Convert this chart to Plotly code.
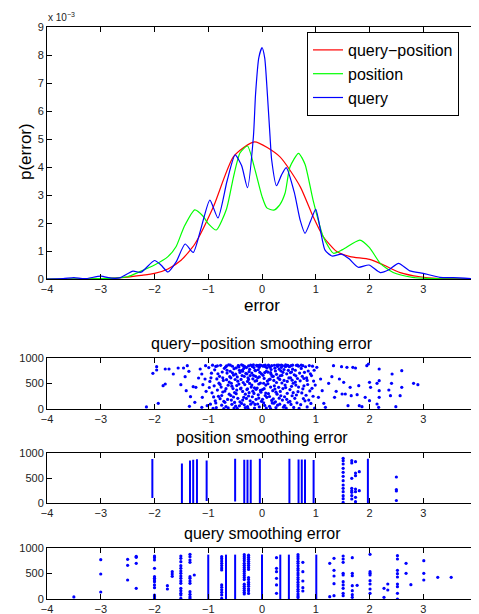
import plotly.graph_objects as go

# ---------------- density curves (p(error), units of 1e-3) ----------------
qp_curve_x = [-4, -3.5, -3, -2.75, -2.5, -2.25, -2, -1.75, -1.5, -1.25, -0.9, -0.53, -0.14, 0.33,
              0.71, 0.95, 1.14, 1.39, 1.64, 2.0, 2.26, 2.57, 2.94, 3.25, 3.5, 4]
qp_curve_y = [0, 0, 0.01, 0.03, 0.07, 0.13, 0.2, 0.36, 0.68, 1.25, 2.6, 4.37, 4.9, 4.37,
              3.3, 2.23, 1.51, 0.98, 0.8, 0.7, 0.5, 0.23, 0.08, 0.02, 0.01, 0]

pos_curve_x = [-4, -3, -2.75, -2.5, -2.25, -2.0, -1.75, -1.6, -1.45, -1.25, -1.1, -1.0, -0.85, -0.66,
               -0.53, -0.41, -0.27, -0.13, 0.0, 0.09, 0.22, 0.33, 0.43, 0.52, 0.68, 0.8, 0.95, 1.14,
               1.33, 1.5, 1.82, 2.0, 2.2, 2.44, 2.8, 3.2, 4]
pos_curve_y = [0, 0.01, 0.03, 0.08, 0.28, 0.5, 0.8, 1.15, 1.86, 2.47, 2.25, 1.98, 1.75, 2.5,
               3.65, 4.5, 4.75, 3.9, 2.95, 2.54, 2.46, 2.65, 3.07, 4.0, 4.49, 4.1, 2.82, 1.51,
               0.92, 1.05, 1.39, 1.12, 0.56, 0.23, 0.06, 0.01, 0]

q_curve_x = [-4, -3.7, -3.5, -3.3, -3.0, -2.8, -2.65, -2.4, -2.25, -2.0, -1.88, -1.75, -1.6, -1.43,
             -1.28, -1.15, -0.97, -0.82, -0.65, -0.5, -0.38, -0.27, -0.16, -0.12, -0.06, 0.0, 0.05,
             0.1, 0.15, 0.18, 0.27, 0.36, 0.45, 0.6, 0.71, 0.8, 0.9, 1.0, 1.17, 1.3, 1.48, 1.62, 1.79,
             1.99, 2.2, 2.36, 2.54, 2.75, 3.0, 3.31, 3.56, 4.0]
q_curve_y = [0, 0.01, 0.05, 0.01, 0.1, 0.03, 0.04, 0.28, 0.24, 0.66, 0.5, 0.25, 0.6, 1.25,
             0.95, 1.7, 2.82, 2.18, 3.5, 4.43, 4.05, 3.26, 5.08, 6.6, 7.9, 8.26, 7.9,
             6.6, 5.08, 4.25, 3.33, 3.7, 3.98, 3.1, 2.1, 1.63, 2.05, 2.49, 1.04, 0.82, 0.89, 0.72, 0.42,
             0.5, 0.23, 0.33, 0.56, 0.29, 0.2, 0.06, 0.05, 0]

# ---------------- query-position smoothing error scatter ----------------
qp_err = [
    # left tail
    -2.03, -1.96, -1.96, -1.93, -1.80, -1.84, -1.80, -1.73, -1.65, -1.56, -1.51, -1.46, -1.43, -1.39,
    -1.41, -1.36, -1.35, -1.33, -1.28, -1.25, -1.23, -1.15, -1.18, -1.12, -1.11, -1.12, -1.10, -1.05,
    -1.06, -1.04, -1.02, -2.15,
    # centre
    -0.99, -0.97, -0.96, -0.94, -0.93, -0.92, -0.91, -0.98, -0.95, -0.90,
    -0.89, -0.88, -0.87, -0.86, -0.85, -0.84, -0.83, -0.82, -0.81, -0.80, -0.86, -0.83,
    -0.79, -0.78, -0.77, -0.76, -0.75, -0.74, -0.73, -0.72, -0.71, -0.70, -0.78, -0.75, -0.73, -0.71,
    -0.69, -0.68, -0.67, -0.66, -0.65, -0.64, -0.63, -0.62, -0.61, -0.60, -0.69, -0.67, -0.65, -0.63, -0.61, -0.66,
    -0.59, -0.58, -0.57, -0.56, -0.55, -0.54, -0.53, -0.52, -0.51, -0.50, -0.59, -0.57, -0.56, -0.55, -0.53, -0.52, -0.51, -0.58,
    -0.49, -0.48, -0.47, -0.46, -0.45, -0.44, -0.43, -0.42, -0.41, -0.40, -0.49, -0.48, -0.46, -0.45, -0.44, -0.42, -0.41, -0.47, -0.43,
    -0.39, -0.38, -0.37, -0.36, -0.35, -0.34, -0.33, -0.32, -0.31, -0.30, -0.39, -0.38, -0.36, -0.35, -0.34, -0.33, -0.31, -0.37, -0.32, -0.36,
    -0.29, -0.28, -0.27, -0.26, -0.25, -0.24, -0.23, -0.22, -0.21, -0.20, -0.29, -0.28, -0.27, -0.26, -0.25, -0.24, -0.22, -0.21, -0.23, -0.27, -0.25,
    -0.19, -0.18, -0.17, -0.16, -0.15, -0.14, -0.13, -0.12, -0.11, -0.10, -0.19, -0.18, -0.17, -0.16, -0.14, -0.13, -0.12, -0.11, -0.15, -0.17, -0.13,
    -0.09, -0.08, -0.07, -0.06, -0.05, -0.04, -0.03, -0.02, -0.01, -0.10, -0.09, -0.08, -0.07, -0.06, -0.05, -0.04, -0.03, -0.02, -0.07, -0.05, -0.01,
    0.01, 0.02, 0.03, 0.04, 0.05, 0.06, 0.07, 0.08, 0.09, 0.10, 0.01, 0.02, 0.03, 0.04, 0.05, 0.06, 0.07, 0.08, 0.09, 0.03, 0.06,
    0.11, 0.12, 0.13, 0.14, 0.15, 0.16, 0.17, 0.18, 0.19, 0.20, 0.11, 0.12, 0.14, 0.15, 0.16, 0.17, 0.19, 0.13, 0.18, 0.16,
    0.21, 0.22, 0.23, 0.24, 0.25, 0.26, 0.27, 0.28, 0.29, 0.30, 0.21, 0.23, 0.24, 0.25, 0.27, 0.28, 0.22, 0.26, 0.29,
    0.31, 0.32, 0.33, 0.34, 0.35, 0.36, 0.37, 0.38, 0.39, 0.40, 0.31, 0.33, 0.34, 0.36, 0.37, 0.39, 0.32, 0.35, 0.38,
    0.41, 0.42, 0.43, 0.44, 0.45, 0.46, 0.47, 0.48, 0.49, 0.50, 0.41, 0.43, 0.44, 0.46, 0.47, 0.49, 0.42, 0.45,
    0.51, 0.52, 0.53, 0.54, 0.55, 0.56, 0.57, 0.58, 0.59, 0.60, 0.52, 0.54, 0.55, 0.57, 0.58, 0.53, 0.56,
    0.61, 0.62, 0.63, 0.64, 0.65, 0.66, 0.67, 0.68, 0.69, 0.70, 0.62, 0.64, 0.66, 0.68, 0.63,
    0.71, 0.72, 0.73, 0.74, 0.75, 0.76, 0.77, 0.78, 0.79, 0.80, 0.73, 0.76, 0.78,
    0.81, 0.82, 0.83, 0.84, 0.85, 0.86, 0.87, 0.88, 0.89, 0.90, 0.84,
    0.91, 0.92, 0.93, 0.94, 0.95, 0.96, 0.97, 0.98, 0.99,
    # right tail
    1.02, 1.05, 1.09, 1.12, 1.15, 1.18, 1.24, 1.30, 1.33, 1.35, 1.38, 1.44, 1.48, 1.49, 1.52, 1.55,
    1.58, 1.60, 1.64, 1.66, 1.69, 1.74, 1.77, 1.80, 1.81, 1.86, 1.92, 1.95, 1.98, 2.00, 2.02, 2.00,
    2.14, 2.18, 2.18, 2.18, 2.18, 2.17, 2.14, 2.36, 2.39, 2.42, 2.41, 2.49, 2.57, 2.60, 2.60, 2.82, 2.90,
]
qp_idx = [
    699, 830, 765, 111, 784, 457, 490, 784, 686, 804, 477, 804, 634, 850,
    359, 739, 52, 242, 438, 131, 425, 784, 608, 686, 229, 33, 477, 850,
    588, 346, 65, 40,
    812, 540, 95, 703, 318, 860, 14, 422, 611, 237,
    455, 768, 160, 834, 27, 590, 372, 691, 248, 506, 118, 846,
    640, 203, 857, 430, 75, 725, 333, 560, 10, 798, 482, 265, 612, 150,
    352, 820, 48, 575, 705, 187, 468, 866, 290, 633, 130, 398, 760, 21, 527, 845,
    740, 265, 505, 92, 838, 401, 665, 20, 322, 578, 862, 175, 447, 710, 235, 790, 128, 612,
    55, 805, 372, 628, 210, 852, 488, 760, 140, 395, 682, 300, 14, 546, 845, 63, 718, 460, 825,
    580, 110, 760, 345, 852, 228, 640, 478, 28, 700, 410, 866, 175, 520, 795, 82, 290, 655, 832, 742,
    812, 380, 45, 612, 255, 734, 502, 160, 862, 430, 208, 690, 540, 8, 845, 320, 655, 95, 778, 395, 580,
    470, 835, 130, 660, 305, 20, 548, 752, 385, 858, 705, 240, 592, 868, 415, 90, 640, 190, 812, 350, 760,
    845, 612, 278, 490, 40, 720, 365, 855, 150, 555, 412, 98, 770, 215, 628, 862, 508, 330, 850, 818, 690,
    380, 840, 122, 600, 715, 265, 470, 20, 805, 548, 190, 660, 852, 398, 70, 832, 312, 740, 228, 505, 860,
    722, 300, 845, 52, 585, 430, 775, 168, 640, 360, 495, 860, 245, 818, 10, 680, 120, 575, 850, 712,
    640, 115, 858, 392, 745, 28, 520, 290, 835, 610, 200, 455, 800, 140, 680, 862, 560, 330, 75,
    425, 780, 95, 652, 260, 862, 510, 175, 720, 35, 860, 580, 345, 818, 660, 400, 212, 748, 850,
    560, 240, 835, 420, 18, 690, 308, 855, 132, 610, 775, 470, 866, 190, 540, 758, 68, 840,
    830, 380, 612, 90, 725, 260, 862, 505, 30, 672, 148, 850, 445, 780, 320, 715, 565,
    210, 760, 470, 856, 122, 598, 340, 840, 15, 705, 528, 275, 862, 430, 650,
    552, 84, 795, 315, 640, 850, 205, 455, 720, 160, 860, 395, 598,
    828, 270, 610, 40, 480, 745, 175, 852, 355, 690, 560,
    110, 655, 405, 840, 250, 548, 760, 18, 470,
    817, 229, 588, 359, 111, 33, 503, 634, 850, 229, 346, 588, 830, 294, 523, 294,
    817, 65, 425, 261, 817, 804, 281, 457, 65, 46, 229, 850, 882, 523, 425, 163,
    503, 784, 556, 359, 229, 33, 98, 373, 261, 686, 503, 46, 261, 752, 425, 503, 477,
]

# ---------------- position smoothing error ----------------
pos_col_err = [-2.04, -1.49, -1.34, -1.28, -1.21, -1.03, -0.50, -0.33, -0.27, -0.21, -0.04,
               0.51, 0.68, 0.74, 0.80, 0.96, 1.97]
pos_col_lo = [100, 0, 0, 0, 0, 40, 30, 0, 0, 0, 0, 0, 0, 0, 0, 0, 0]
pos_col_hi = [880, 790, 850, 865, 875, 850, 885, 865, 865, 865, 885, 885, 870, 870, 870, 860, 885]
pos_pt_err = [1.51] * 13 + [1.67] * 8 + [1.74] * 7 + [1.81] * 2 + [2.5] * 4
pos_pt_idx = [893, 847, 780, 693, 613, 533, 447, 360, 293, 227, 147, 87, 13,
              847, 800, 493, 293, 247, 213, 147, 80,
              827, 600, 547, 280, 227, 113, 27,
              627, 247,
              520, 270, 240, 50]

# ---------------- query smoothing error ----------------
q_col_err = [-1.00, -0.67, -0.50, 0.00, 0.34, 0.50, 1.01]
q_col_lo = [0, 0, 0, 0, 0, 0, 0]
q_col_hi = [870, 870, 870, 875, 870, 870, 870]
q_pt_err = ([-3.5] + [-3.0] * 3 + [-2.5] * 3 + [-2.34] * 4 + [-2.0] * 13 + [-1.76] * 2 + [-1.67] * 3
            + [-1.51] * 16 + [-1.34] * 12 + [-1.26] + [-0.75] * 13 + [-0.33] * 19 + [-0.25] * 16
            + [0.27] * 6 + [0.67] * 20 + [0.76] * 5 + [1.26] * 2 + [1.34] * 5 + [1.51] * 10
            + [1.68] * 7 + [1.77] + [2.01] * 8 + [2.27] * 2 + [2.34] * 2 + [2.52] * 9 + [2.68] * 2
            + [2.77] + [3.01] * 3 + [3.27] + [3.52])
q_pt_idx = [40,
            771, 490, 137,
            778, 660, 373,
            837, 817, 699, 209,
            843, 810, 765, 601, 438, 405, 373, 340, 275, 222, 78, 46, 13,
            261, 196,
            536, 490, 444,
            843, 797, 732, 654, 601, 549, 503, 451, 405, 353, 307, 209, 163, 111, 78, 13,
            876, 830, 765, 719, 438, 405, 353, 307, 144, 92, 46, 13,
            471,
            830, 790, 745, 700, 655, 610, 569, 275, 230, 180, 130, 80, 13,
            870, 830, 790, 750, 700, 660, 620, 580, 540, 500, 460, 420, 380, 290, 250, 210, 170, 130, 100,
            860, 820, 780, 740, 700, 660, 620, 580, 420, 380, 330, 290, 250, 200, 160, 110,
            810, 601, 536, 405, 275, 111,
            870, 830, 790, 740, 700, 650, 600, 560, 510, 470, 420, 380, 330, 280, 240, 190, 150, 100, 60, 30,
            719, 536, 353, 222, 157,
            699, 46,
            797, 562, 451, 301, 65,
            843, 784, 719, 503, 471, 340, 275, 209, 111, 65,
            810, 503, 458, 261, 163, 85, 33,
            268,
            876, 536, 503, 471, 359, 294, 196, 111,
            209, 33,
            294, 176,
            850, 784, 562, 497, 431, 294, 242, 111, 0,
            699, 503,
            281,
            752, 503, 373,
            425,
            425]

x_ticks = [-4, -3, -2, -1, 0, 1, 2, 3, 4]
x_tick_text = ["\u22124", "\u22123", "\u22122", "\u22121", "0", "1", "2", "3", "4"]
top_y_ticks = [0, 1, 2, 3, 4, 5, 6, 7, 8, 9]
small_y_ticks = [0, 500, 1000]

FONT = "Liberation Sans, Arial, Helvetica, sans-serif"
BLUE = "#0000ff"

# page has an 8px body margin: the figure occupies page pixels 8..479 x 8..614
OFF = 8
W, H = 479 - OFF, 614 - OFF


def px(xpage):
    return (xpage - OFF) / W


def py(ypage):
    return (H - (ypage - OFF)) / H


fig = go.Figure()

scale = 1e-3
for cx_, cy_, col, nm in [(qp_curve_x, qp_curve_y, "#ff0000", "query\u2212position"),
                          (pos_curve_x, pos_curve_y, "#00ff00", "position"),
                          (q_curve_x, q_curve_y, BLUE, "query")]:
    fig.add_trace(go.Scatter(x=cx_, y=[v * scale for v in cy_], mode="lines",
                             line=dict(color=col, width=1.2, shape="spline", smoothing=0.6),
                             name=nm, xaxis="x", yaxis="y"))

fig.add_trace(go.Scatter(x=qp_err, y=qp_idx, mode="markers",
                         marker=dict(color=BLUE, size=3.2, line=dict(width=0)),
                         showlegend=False, xaxis="x2", yaxis="y2"))


def columns(xs, lo, hi):
    cx, cy = [], []
    for x, a, b in zip(xs, lo, hi):
        cx += [x, x, None]
        cy += [a, b, None]
    return cx, cy


cx, cy = columns(pos_col_err, pos_col_lo, pos_col_hi)
fig.add_trace(go.Scatter(x=cx, y=cy, mode="lines", line=dict(color=BLUE, width=2),
                         showlegend=False, xaxis="x3", yaxis="y3"))
fig.add_trace(go.Scatter(x=pos_pt_err, y=pos_pt_idx, mode="markers",
                         marker=dict(color=BLUE, size=3.2, line=dict(width=0)),
                         showlegend=False, xaxis="x3", yaxis="y3"))

cx, cy = columns(q_col_err, q_col_lo, q_col_hi)
fig.add_trace(go.Scatter(x=cx, y=cy, mode="lines", line=dict(color=BLUE, width=2),
                         showlegend=False, xaxis="x4", yaxis="y4"))
fig.add_trace(go.Scatter(x=q_pt_err, y=q_pt_idx, mode="markers",
                         marker=dict(color=BLUE, size=3.2, line=dict(width=0)),
                         showlegend=False, xaxis="x4", yaxis="y4"))

x_dom = [px(47), px(477)]


def axis_common():
    return dict(showline=True, linecolor="black", linewidth=1, mirror="ticks",
                ticks="inside", ticklen=5, tickcolor="black", tickwidth=1,
                showgrid=False, zeroline=False, automargin=False,
                ticklabeloverflow="allow",
                tickfont=dict(family=FONT, size=11, color="#222222"))


for i, (yname, (top_px, bot_px), anchor) in enumerate([
        ("yaxis", (27, 279), "x"), ("yaxis2", (358, 409), "x2"),
        ("yaxis3", (453, 503), "x3"), ("yaxis4", (548, 599), "x4")]):
    xname = "xaxis" if i == 0 else "xaxis%d" % (i + 1)
    ycode = "y" if i == 0 else "y%d" % (i + 1)
    xa = axis_common()
    xa.update(domain=x_dom, range=[-4, 4], tickvals=x_ticks, ticktext=x_tick_text, anchor=ycode)
    ya = axis_common()
    ya.update(domain=[py(bot_px), py(top_px)], anchor=anchor)
    if i == 0:
        ya.update(range=[0, 9e-3], tickvals=[t * scale for t in top_y_ticks],
                  ticktext=[str(t) for t in top_y_ticks])
    else:
        ya.update(range=[0, 1000], tickvals=small_y_ticks,
                  ticktext=[str(t) for t in small_y_ticks])
    fig.update_layout(**{xname: xa, yname: ya})

annotations = [
    dict(text="x 10<sup>\u22123</sup>", x=px(46), y=py(17), xanchor="left", yanchor="middle",
         font=dict(size=10, color="#222222")),
    dict(text="p(error)", x=px(25), y=py(152), textangle=-90, xanchor="center", yanchor="middle",
         font=dict(size=17, color="black")),
    dict(text="error", x=px(262), y=py(305), xanchor="center", yanchor="middle",
         font=dict(size=17, color="black")),
    dict(text="query\u2212position smoothing error", x=px(262), y=py(343),
         xanchor="center", yanchor="middle", font=dict(size=16, color="black")),
    dict(text="position smoothing error", x=px(262), y=py(437),
         xanchor="center", yanchor="middle", font=dict(size=16, color="black")),
    dict(text="query smoothing error", x=px(262), y=py(533),
         xanchor="center", yanchor="middle", font=dict(size=16, color="black")),
]
for a in annotations:
    a.update(xref="paper", yref="paper", showarrow=False)
    a["font"]["family"] = FONT

fig.update_layout(
    width=W, height=H, margin=dict(l=0, r=0, t=0, b=0),
    paper_bgcolor="white", plot_bgcolor="white",
    font=dict(family=FONT, color="black"),
    annotations=annotations,
    legend=dict(x=px(307), y=py(32), xanchor="left", yanchor="top",
                bgcolor="white", bordercolor="black", borderwidth=1,
                font=dict(family=FONT, size=16, color="black"),
                tracegroupgap=0, itemwidth=30),
)

fig.write_html("out.html")
